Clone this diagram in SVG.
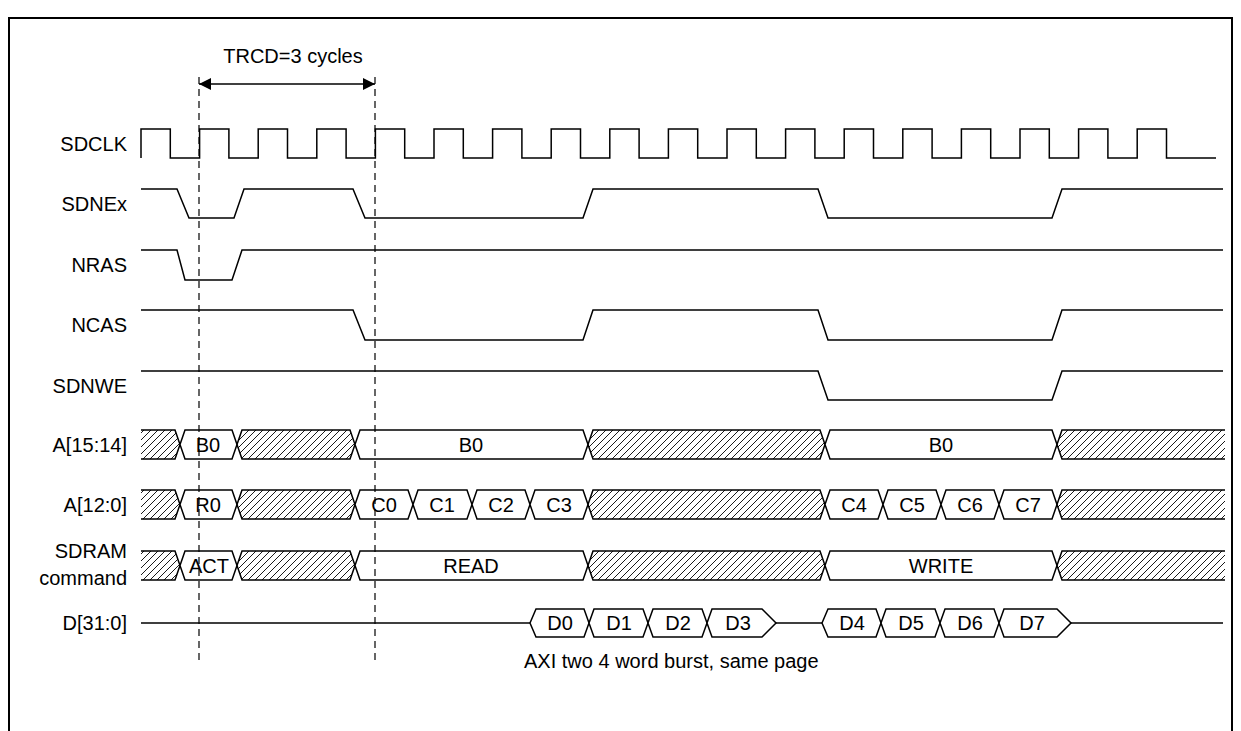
<svg xmlns="http://www.w3.org/2000/svg" width="1241" height="731" viewBox="0 0 1241 731">
<style>
text{font-family:"Liberation Sans",Arial,sans-serif;font-size:20px;fill:#000}
.lbl{text-anchor:end}
.c{text-anchor:middle}
.w{fill:none;stroke:#000;stroke-width:1.5}
.h{fill:url(#hatch);stroke:#000;stroke-width:1.5}
.b{fill:#fff;stroke:#000;stroke-width:1.5}
.d{stroke:#000;stroke-width:1.2;stroke-dasharray:7,5;fill:none}
</style>
<defs>
<pattern id="hatch" patternUnits="userSpaceOnUse" width="7" height="7">
<path d="M-1,1 L1,-1 M0,7 L7,0 M6,8 L8,6" stroke="#000" stroke-width="0.9"/>
</pattern>
<marker id="ah" viewBox="0 0 10 10" refX="10" refY="5" markerWidth="12" markerHeight="12" markerUnits="userSpaceOnUse" orient="auto-start-reverse">
<path d="M0,0 L10,5 L0,10Z" fill="#000"/>
</marker>
</defs>
<rect x="9" y="18" width="1223" height="740" fill="none" stroke="#000" stroke-width="2"/>

<g id="labels">
<text class="lbl" x="127" y="151">SDCLK</text>
<text class="lbl" x="127" y="211">SDNEx</text>
<text class="lbl" x="127" y="272">NRAS</text>
<text class="lbl" x="127" y="332">NCAS</text>
<text class="lbl" x="127" y="393">SDNWE</text>
<text class="lbl" x="127" y="452">A[15:14]</text>
<text class="lbl" x="127" y="512">A[12:0]</text>
<text class="lbl" x="127" y="558">SDRAM</text>
<text class="lbl" x="127" y="585">command</text>
<text class="lbl" x="127" y="630">D[31:0]</text>
</g>

<g id="sdclk">
<path class="w" d="M141,158 V129 H170.3 V158 H199.6 V129 H228.9 V158 H258.2 V129 H287.5 V158 H316.8 V129 H346.1 V158 H375.4 V129 H404.7 V158 H434 V129 H463.3 V158 H492.6 V129 H521.9 V158 H551.2 V129 H580.5 V158 H609.8 V129 H639.1 V158 H668.4 V129 H697.7 V158 H727 V129 H756.3 V158 H785.6 V129 H814.9 V158 H844.2 V129 H873.5 V158 H902.8 V129 H932.1 V158 H961.4 V129 H990.7 V158 H1020 V129 H1049.3 V158 H1078.6 V129 H1107.9 V158 H1137.2 V129 H1166.5 V158 H1216"/>
</g>
<g id="sdnex">
<path class="w" d="M141,189 H177 L189,218 H234 L244,189 H353 L365,218 H583 L593,189 H818 L828,218 H1052 L1062,189 H1223"/>
</g>
<g id="nras">
<path class="w" d="M141,250 H177 L185,280 H232 L242,250 H1223"/>
</g>
<g id="ncas">
<path class="w" d="M141,310 H353 L365,340 H583 L593,310 H818 L828,340 H1052 L1062,310 H1223"/>
</g>
<g id="sdnwe">
<path class="w" d="M141,371 H818 L828,400 H1052 L1062,371 H1223"/>
</g>

<g id="a1514">
<path class="h" d="M141,430 L175,430 L180,444.5 L175,459 L141,459"/>
<path class="b" d="M180,444.5 L185,430 L232,430 L237,444.5 L232,459 L185,459Z"/>
<path class="h" d="M237,444.5 L242,430 L350,430 L355,444.5 L350,459 L242,459Z"/>
<path class="b" d="M355,444.5 L360,430 L583,430 L588,444.5 L583,459 L360,459Z"/>
<path class="h" d="M588,444.5 L593,430 L820,430 L825,444.5 L820,459 L593,459Z"/>
<path class="b" d="M825,444.5 L830,430 L1052,430 L1057,444.5 L1052,459 L830,459Z"/>
<path class="h" d="M1225,430 L1062,430 L1057,444.5 L1062,459 L1225,459"/>
<text class="c" x="208" y="452">B0</text>
<text class="c" x="471" y="452">B0</text>
<text class="c" x="941" y="452">B0</text>
</g>

<g id="a120" transform="translate(0,60)">
<path class="h" d="M141,430 L175,430 L180,444.5 L175,459 L141,459"/>
<path class="b" d="M180,444.5 L185,430 L232,430 L237,444.5 L232,459 L185,459Z"/>
<path class="h" d="M237,444.5 L242,430 L350,430 L355,444.5 L350,459 L242,459Z"/>
<path class="b" d="M355,444.5 L360,430 L408,430 L413,444.5 L408,459 L360,459Z"/>
<path class="b" d="M413,444.5 L418,430 L467,430 L472,444.5 L467,459 L418,459Z"/>
<path class="b" d="M472,444.5 L477,430 L525,430 L530,444.5 L525,459 L477,459Z"/>
<path class="b" d="M530,444.5 L535,430 L583,430 L588,444.5 L583,459 L535,459Z"/>
<path class="h" d="M588,444.5 L593,430 L820,430 L825,444.5 L820,459 L593,459Z"/>
<path class="b" d="M825,444.5 L830,430 L878,430 L883,444.5 L878,459 L830,459Z"/>
<path class="b" d="M883,444.5 L888,430 L936,430 L941,444.5 L936,459 L888,459Z"/>
<path class="b" d="M941,444.5 L946,430 L994,430 L999,444.5 L994,459 L946,459Z"/>
<path class="b" d="M999,444.5 L1004,430 L1052,430 L1057,444.5 L1052,459 L1004,459Z"/>
<path class="h" d="M1225,430 L1062,430 L1057,444.5 L1062,459 L1225,459"/>
<text class="c" x="208" y="452">R0</text>
<text class="c" x="384" y="452">C0</text>
<text class="c" x="442" y="452">C1</text>
<text class="c" x="501" y="452">C2</text>
<text class="c" x="559" y="452">C3</text>
<text class="c" x="854" y="452">C4</text>
<text class="c" x="912" y="452">C5</text>
<text class="c" x="970" y="452">C6</text>
<text class="c" x="1028" y="452">C7</text>
</g>

<g id="cmd" transform="translate(0,121)">
<path class="h" d="M141,430 L175,430 L180,444.5 L175,459 L141,459"/>
<path class="b" d="M180,444.5 L185,430 L232,430 L237,444.5 L232,459 L185,459Z"/>
<path class="h" d="M237,444.5 L242,430 L350,430 L355,444.5 L350,459 L242,459Z"/>
<path class="b" d="M355,444.5 L360,430 L583,430 L588,444.5 L583,459 L360,459Z"/>
<path class="h" d="M588,444.5 L593,430 L820,430 L825,444.5 L820,459 L593,459Z"/>
<path class="b" d="M825,444.5 L830,430 L1052,430 L1057,444.5 L1052,459 L830,459Z"/>
<path class="h" d="M1225,430 L1062,430 L1057,444.5 L1062,459 L1225,459"/>
<text class="c" x="209" y="452">ACT</text>
<text class="c" x="471" y="452">READ</text>
<text class="c" x="941" y="452">WRITE</text>
</g>

<g id="data">
<path class="w" d="M141,623 H530 M776,623 H822 M1071,623 H1223"/>
<path class="b" d="M530,623 L536,609 L584,609 L589,623 L584,637 L536,637Z"/>
<path class="b" d="M589,623 L594,609 L643,609 L648,623 L643,637 L594,637Z"/>
<path class="b" d="M648,623 L653,609 L702,609 L707,623 L702,637 L653,637Z"/>
<path class="b" d="M707,623 L712,609 L762,609 L776,623 L762,637 L712,637Z"/>
<path class="b" d="M822,623 L828,609 L876,609 L881,623 L876,637 L828,637Z"/>
<path class="b" d="M881,623 L886,609 L935,609 L940,623 L935,637 L886,637Z"/>
<path class="b" d="M940,623 L945,609 L994,609 L999,623 L994,637 L945,637Z"/>
<path class="b" d="M999,623 L1004,609 L1057,609 L1071,623 L1057,637 L1004,637Z"/>
<text class="c" x="560" y="630">D0</text>
<text class="c" x="619" y="630">D1</text>
<text class="c" x="678" y="630">D2</text>
<text class="c" x="738" y="630">D3</text>
<text class="c" x="852" y="630">D4</text>
<text class="c" x="911" y="630">D5</text>
<text class="c" x="970" y="630">D6</text>
<text class="c" x="1032" y="630">D7</text>
</g>

<g id="connectors">
<line class="d" x1="199" y1="77" x2="199" y2="660"/>
<line class="d" x1="375" y1="77" x2="375" y2="660"/>
<line x1="199" y1="84" x2="375" y2="84" stroke="#000" stroke-width="1.5" marker-start="url(#ah)" marker-end="url(#ah)"/>
</g>
<text class="c" x="293" y="63">TRCD=3 cycles</text>
<text x="524" y="668">AXI two 4 word burst, same page</text>
</svg>
